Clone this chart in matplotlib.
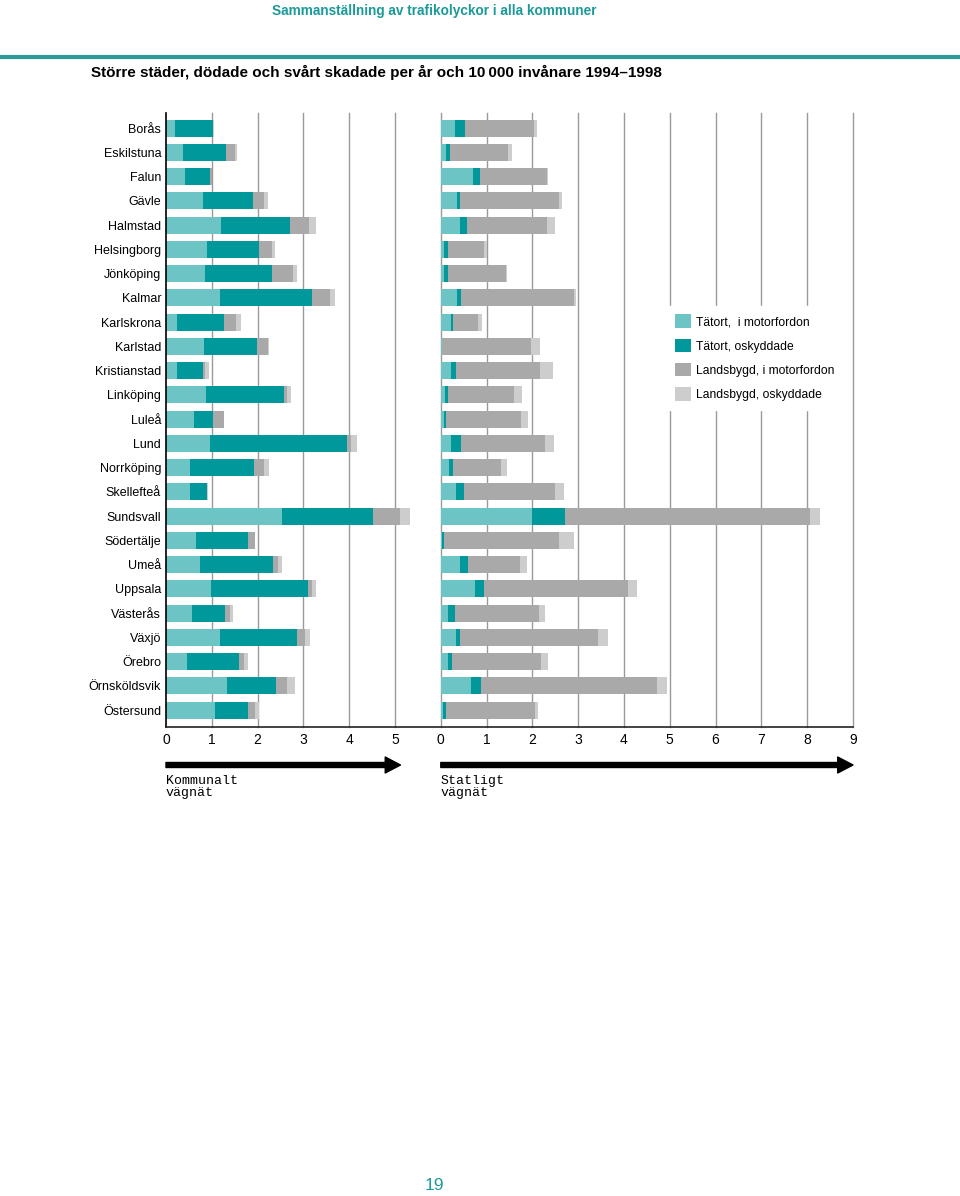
import matplotlib.pyplot as plt
from matplotlib.patches import Patch

# ─────────────────────────────────────────
# DATA (dödade och svårt skadade per år och 10 000 invånare)
# ─────────────────────────────────────────
CITIES = ["Borås", "Eskilstuna", "Falun", "Gävle", "Halmstad", "Helsingborg",
          "Jönköping", "Kalmar", "Karlskrona", "Karlstad", "Kristianstad",
          "Linköping", "Luleå", "Lund", "Norrköping", "Skellefteå", "Sundsvall",
          "Södertälje", "Umeå", "Uppsala", "Västerås", "Växjö", "Örebro",
          "Örnsköldsvik", "Östersund"]

SERIES = ["Tätort,  i motorfordon", "Tätort, oskyddade",
          "Landsbygd, i motorfordon", "Landsbygd, oskyddade"]

# Kommunalt vägnät
KOM_TAT_MOTOR = [0.20, 0.37, 0.42, 0.80, 1.21, 0.90, 0.85, 1.17, 0.25, 0.82, 0.23, 0.87, 0.61,
                 0.96, 0.53, 0.52, 2.54, 0.66, 0.74, 0.98, 0.56, 1.17, 0.45, 1.33, 1.06]
KOM_TAT_OSK = [0.82, 0.93, 0.54, 1.11, 1.49, 1.14, 1.46, 2.02, 1.02, 1.17, 0.57, 1.70, 0.42,
               2.99, 1.40, 0.37, 1.99, 1.12, 1.59, 2.11, 0.72, 1.70, 1.14, 1.07, 0.73]
KOM_LAND_MOTOR = [0.01, 0.21, 0.04, 0.24, 0.43, 0.27, 0.47, 0.39, 0.25, 0.23, 0.05, 0.08, 0.24,
                  0.09, 0.21, 0.00, 0.58, 0.17, 0.11, 0.10, 0.11, 0.16, 0.12, 0.25, 0.16]
KOM_LAND_OSK = [0.01, 0.05, 0.00, 0.07, 0.14, 0.07, 0.09, 0.12, 0.11, 0.02, 0.08, 0.09, 0.00,
                0.13, 0.11, 0.03, 0.22, 0.00, 0.09, 0.08, 0.07, 0.11, 0.07, 0.17, 0.08]

# Statligt vägnät
STAT_TAT_MOTOR = [0.31, 0.12, 0.71, 0.36, 0.42, 0.08, 0.08, 0.35, 0.22, 0.02, 0.23, 0.10, 0.06,
                  0.22, 0.17, 0.33, 2.00, 0.02, 0.41, 0.75, 0.15, 0.34, 0.16, 0.66, 0.04]
STAT_TAT_OSK = [0.22, 0.08, 0.14, 0.06, 0.16, 0.07, 0.07, 0.10, 0.04, 0.00, 0.11, 0.05, 0.05,
                0.22, 0.09, 0.17, 0.71, 0.05, 0.18, 0.19, 0.16, 0.08, 0.09, 0.22, 0.07]
STAT_LAND_MOTOR = [1.51, 1.27, 1.46, 2.15, 1.73, 0.80, 1.27, 2.46, 0.56, 1.96, 1.83, 1.44, 1.65,
                   1.84, 1.05, 2.00, 5.35, 2.50, 1.15, 3.15, 1.84, 3.02, 1.93, 3.85, 1.95]
STAT_LAND_OSK = [0.05, 0.09, 0.02, 0.08, 0.19, 0.06, 0.03, 0.05, 0.08, 0.19, 0.28, 0.19, 0.14,
                 0.19, 0.13, 0.18, 0.23, 0.33, 0.14, 0.20, 0.12, 0.21, 0.15, 0.20, 0.06]

KOM_TICKS = [0, 1, 2, 3, 4, 5]
STAT_TICKS = [0, 1, 2, 3, 4, 5, 6, 7, 8, 9]

# ─────────────────────────────────────────
# STYLE
# ─────────────────────────────────────────
COLORS = ["#6cc4c5", "#00989a", "#a9a9a9", "#cdcdcd"]
TEAL_TEXT = "#1a9a98"
GRID = "#9a9a9a"
STAT_OFFSET = 6          # statligt panel starts one unit after kommunalt max (5)
W, H = 960, 1196

plt.rcParams["font.family"] = ["Liberation Sans", "DejaVu Sans"]


def fx(px):
    return px / W


def fy(py):
    return 1 - py / H


fig = plt.figure(figsize=(W / 100, H / 100), dpi=100)
ax = fig.add_axes([fx(166), fy(727), fx(853) - fx(166), fy(113) - fy(727)])

rows = list(range(len(CITIES)))
bar_h = 0.7

kom = [KOM_TAT_MOTOR, KOM_TAT_OSK, KOM_LAND_MOTOR, KOM_LAND_OSK]
stat = [STAT_TAT_MOTOR, STAT_TAT_OSK, STAT_LAND_MOTOR, STAT_LAND_OSK]

left_k = [0.0] * len(CITIES)
left_s = [float(STAT_OFFSET)] * len(CITIES)
for i in range(4):
    ax.barh(rows, kom[i], left=left_k, height=bar_h, color=COLORS[i],
            linewidth=0, zorder=2)
    ax.barh(rows, stat[i], left=left_s, height=bar_h, color=COLORS[i],
            linewidth=0, zorder=2, label=SERIES[i])
    left_k = [a + b for a, b in zip(left_k, kom[i])]
    left_s = [a + b for a, b in zip(left_s, stat[i])]

# vertical gridlines
for v in KOM_TICKS[1:] + [t + STAT_OFFSET for t in STAT_TICKS]:
    ax.axvline(v, color=GRID, linewidth=1.0, zorder=0, clip_on=False)

ax.set_xlim(0, STAT_OFFSET + STAT_TICKS[-1])
ax.set_ylim(24.70, -0.62)

xt = KOM_TICKS + [t + STAT_OFFSET for t in STAT_TICKS]
ax.set_xticks(xt)
ax.set_xticklabels([str(t) for t in KOM_TICKS + STAT_TICKS], fontsize=10)
ax.set_yticks(rows)
ax.set_yticklabels(CITIES, fontsize=9)
ax.tick_params(axis="x", length=0, pad=4)
ax.tick_params(axis="y", length=0, pad=3.5)

for s in ["top", "right"]:
    ax.spines[s].set_visible(False)
ax.spines["left"].set_color("black")
ax.spines["left"].set_linewidth(1.2)
ax.spines["bottom"].set_color("#222222")
ax.spines["bottom"].set_linewidth(1.2)

# legend
handles = [Patch(facecolor=c, edgecolor="none") for c in COLORS]
leg = fig.legend(handles, SERIES, loc="upper left",
                 bbox_to_anchor=(fx(667), fy(306)), fontsize=8.7,
                 frameon=True, facecolor="white", edgecolor="white", framealpha=1,
                 fancybox=False, borderpad=0.7, borderaxespad=0,
                 handlelength=1.32, handleheight=1.32, handletextpad=0.42,
                 labelspacing=0.88)

# arrows under axes
arrow_props = dict(arrowstyle="simple,head_length=1.1,head_width=1.15,tail_width=0.36",
                   color="black", mutation_scale=10, shrinkA=0, shrinkB=0)
ax.annotate("", xy=(5.12, fy(765)), xytext=(0, fy(765)),
            xycoords=("data", "figure fraction"), textcoords=("data", "figure fraction"),
            arrowprops=arrow_props, annotation_clip=False)
ax.annotate("", xy=(STAT_OFFSET + 9, fy(765)), xytext=(STAT_OFFSET, fy(765)),
            xycoords=("data", "figure fraction"), textcoords=("data", "figure fraction"),
            arrowprops=arrow_props, annotation_clip=False)

mono = ["Liberation Mono", "DejaVu Sans Mono"]
fig.text(fx(166), fy(775), "Kommunalt\nvägnät", family=mono, fontsize=9.5,
         va="top", ha="left", linespacing=1.0)
fig.text(fx(441), fy(775), "Statligt\nvägnät", family=mono, fontsize=9.5,
         va="top", ha="left", linespacing=1.0)

# page header / title / footer
fig.text(fx(434), fy(11), "Sammanställning av trafikolyckor i alla kommuner",
         weight="bold", fontsize=9.8, color=TEAL_TEXT,
         ha="center", va="center")
fig.add_artist(plt.Line2D([0, 1], [fy(57), fy(57)], color="#2b9b98", linewidth=3))
fig.text(fx(91), fy(72), "Större städer, dödade och svårt skadade per år och 10\u2009000 invånare 1994\u20131998",
         weight="bold", fontsize=11, color="black",
         ha="left", va="center")
fig.text(fx(434), fy(1186), "19", fontsize=12.5, color=TEAL_TEXT,
         ha="center", va="center")

fig.savefig("out.png", dpi=100, facecolor="white")
